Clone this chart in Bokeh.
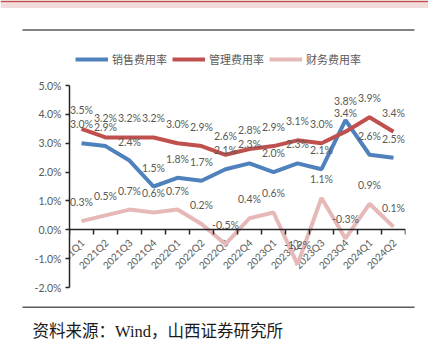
import math
from bokeh.plotting import figure
from bokeh.layouts import column
from bokeh.models import (Range1d, FixedTicker, LinearAxis, PrintfTickFormatter,
                          Legend, LegendItem, Label, BoxAnnotation, ColumnDataSource)
from bokeh.core.properties import value
from bokeh.embed import file_html
from bokeh.resources import INLINE

quarters = ["2021Q1", "2021Q2", "2021Q3", "2021Q4", "2022Q1", "2022Q2", "2022Q3",
            "2022Q4", "2023Q1", "2023Q2", "2023Q3", "2023Q4", "2024Q1", "2024Q2"]
sales = [3.0, 2.9, 2.4, 1.5, 1.8, 1.7, 2.1, 2.3, 2.0, 2.3, 2.1, 3.8, 2.6, 2.5]
admin = [3.5, 3.2, 3.2, 3.2, 3.0, 2.9, 2.6, 2.8, 2.9, 3.1, 3.0, 3.4, 3.9, 3.4]
finance = [0.3, 0.5, 0.7, 0.6, 0.7, 0.2, -0.5, 0.4, 0.6, -1.2, 1.1, -0.3, 0.9, 0.1]
series_names = ["销售费用率", "管理费用率", "财务费用率"]
series_colors = ["#4F81BD", "#C0504D", "#E6B9B8"]
y_ticks = [-2, -1, 0, 1, 2, 3, 4, 5]
source_text = "资料来源：Wind，山西证券研究所"

W = 428
H_HEAD, H_MAIN, H_FOOT = 70, 230, 41
GRAY = "#595959"
AXC = "#262626"
NUM_FONT = "Lato"
CJK = "Noto Sans CJK SC"
NAN = float("nan")


def plain_fig(h):
    f = figure(width=W, height=h, output_backend="svg", toolbar_location=None,
               x_range=Range1d(0, W), y_range=Range1d(h, 0),
               min_border=0, min_border_left=0, min_border_right=0,
               min_border_top=0, min_border_bottom=0,
               x_axis_location=None, y_axis_location=None, frame_align=False)
    f.outline_line_color = None
    f.grid.visible = False
    return f


def band(fig, x0, y0, x1, y1, color):
    fig.add_layout(BoxAnnotation(left=x0, right=x1, top=y0, bottom=y1,
                                 fill_color=color, fill_alpha=1, line_color=None))


# ---------------- header ----------------
ph = plain_fig(H_HEAD)
band(ph, 0, 0, W, 2, "#C0504D")
band(ph, 0, 2, W, 7.5, "#F2DCDB")
band(ph, 22, 28.8, 414, 30.3, "#5a5a5a")

items = []
for name, col in zip(series_names, series_colors):
    r = ph.line(x=[NAN, NAN], y=[NAN, NAN], line_color=col, line_width=4)
    items.append(LegendItem(label=name, renderers=[r]))
legend = Legend(items=items, orientation="horizontal", location=(75, 3),
                label_text_font=CJK, label_text_font_size="11px",
                label_text_color=GRAY, glyph_width=33, glyph_height=14,
                label_height=14, label_standoff=4, spacing=5, padding=0, margin=0,
                border_line_color=None, background_fill_alpha=0)
ph.add_layout(legend, "center")

# ---------------- main chart ----------------
FRAME_LEFT, FRAME_RIGHT = 69, 23
TOP_B = 15                                 # frame top offset inside main canvas
Y0_PAGE, Y5_PAGE = 287, 85                 # page y of -2% and 5%
PPU = (Y0_PAGE - Y5_PAGE) / 7.0
frame_bottom_page = H_HEAD + H_MAIN
y_start = -2 - (frame_bottom_page - Y0_PAGE) / PPU

p = figure(width=W, height=H_MAIN, output_backend="svg", toolbar_location=None,
           x_range=Range1d(-0.5, len(quarters) - 0.5), y_range=Range1d(y_start, 5),
           min_border_left=FRAME_LEFT, min_border_right=FRAME_RIGHT,
           min_border_top=TOP_B, min_border_bottom=0,
           x_axis_location=None, y_axis_location=None, frame_align=False)
p.outline_line_color = None
p.grid.visible = False

yax = LinearAxis(ticker=FixedTicker(ticks=y_ticks),
                 formatter=PrintfTickFormatter(format="%.1f%%"), bounds=(-2, 5))
yax.axis_line_color = AXC
yax.axis_line_width = 1.5
yax.major_tick_line_color = AXC
yax.major_tick_line_width = 1.5
yax.major_tick_out = 4
yax.major_tick_in = 0
yax.minor_tick_line_color = None
yax.major_label_text_font = NUM_FONT
yax.major_label_text_font_size = "10.5px"
yax.major_label_text_color = GRAY
yax.major_label_standoff = 4
p.add_layout(yax, "left")

# x axis line at 0% with ticks between the categories (minor ticks only, no labels)
xtick = LinearAxis(ticker=FixedTicker(ticks=[],
                                      minor_ticks=[i - 0.5 for i in range(len(quarters) + 1)]),
                   fixed_location=0, bounds=(-0.5, len(quarters) - 0.5))
xtick.axis_line_color = AXC
xtick.axis_line_width = 1.5
xtick.major_tick_line_color = None
xtick.minor_tick_line_color = AXC
xtick.minor_tick_line_width = 1.5
xtick.minor_tick_out = 0
xtick.minor_tick_in = 5
p.add_layout(xtick, "above")

idx = list(range(len(quarters)))
p.text(x=idx, y=[0] * len(idx), text=quarters, angle=math.pi / 4,
       text_font=value(NUM_FONT), text_font_size="10px", text_color=GRAY,
       text_align="right", text_baseline="middle", x_offset=1, y_offset=11)

for name, vals, col in zip(series_names, [sales, admin, finance], series_colors):
    src = ColumnDataSource(dict(x=idx, y=vals))
    p.line("x", "y", source=src, line_color=col, line_width=4)
for vals in [sales, admin, finance]:
    src = ColumnDataSource(dict(x=idx, y=vals, t=[f"{v:.1f}%" for v in vals]))
    p.text("x", "y", text="t", source=src, text_font=value(NUM_FONT),
           text_font_size="10.5px", text_color=GRAY, text_align="center",
           text_baseline="middle", y_offset=-19)

# ---------------- footer ----------------
pf = plain_fig(H_FOOT)
base = H_HEAD + H_MAIN
band(pf, 22, 306 - base, 414, 307.5 - base, "#5a5a5a")
pf.add_layout(Label(x=32, y=331 - base, text=source_text,
                    text_font="Liberation Serif, Noto Sans CJK SC",
                    text_font_size="16.5px", text_color="#1a1a1a",
                    text_baseline="alphabetic"))

layout = column(ph, p, pf, spacing=0)
open("out.html", "w").write(file_html(layout, INLINE))
